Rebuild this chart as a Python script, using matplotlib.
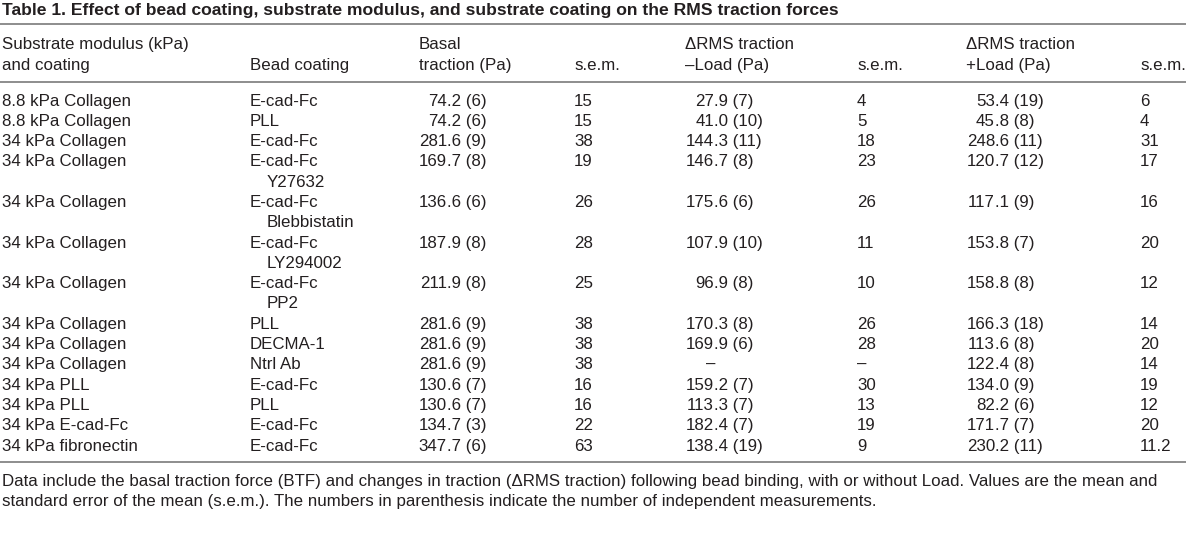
import matplotlib
matplotlib.use("Agg")
import matplotlib.pyplot as plt

plt.rcParams['font.family'] = ['Liberation Sans', 'DejaVu Sans']

# table contents
title = ("Table 1. Effect of bead coating, substrate modulus, and substrate "
         "coating on the RMS traction forces")
headers_top = ["Substrate modulus (kPa)", "", "Basal", "", "\u0394RMS traction", "", "\u0394RMS traction", ""]
headers_bottom = ["and coating", "Bead coating", "traction (Pa)", "s.e.m.",
                  "\u2013Load (Pa)", "s.e.m.", "+Load (Pa)", "s.e.m."]

substrate = ["8.8 kPa Collagen", "8.8 kPa Collagen", "34 kPa Collagen", "34 kPa Collagen",
             "34 kPa Collagen", "34 kPa Collagen", "34 kPa Collagen", "34 kPa Collagen",
             "34 kPa Collagen", "34 kPa Collagen", "34 kPa PLL", "34 kPa PLL",
             "34 kPa E-cad-Fc", "34 kPa fibronectin"]
bead = ["E-cad-Fc", "PLL", "E-cad-Fc", "E-cad-Fc", "E-cad-Fc", "E-cad-Fc", "E-cad-Fc",
        "PLL", "DECMA-1", "Ntrl Ab", "E-cad-Fc", "PLL", "E-cad-Fc", "E-cad-Fc"]
inhibitor = ["", "", "", "Y27632", "Blebbistatin", "LY294002", "PP2",
             "", "", "", "", "", "", ""]

basal = ["74.2", "74.2", "281.6", "169.7", "136.6", "187.9", "211.9",
         "281.6", "281.6", "281.6", "130.6", "130.6", "134.7", "347.7"]
basal_n = [6, 6, 9, 8, 6, 8, 8, 9, 9, 9, 7, 7, 3, 6]
basal_sem = ["15", "15", "38", "19", "26", "28", "25", "38", "38", "38", "16", "16", "22", "63"]

minus_load = ["27.9", "41.0", "144.3", "146.7", "175.6", "107.9", "96.9",
              "170.3", "169.9", None, "159.2", "113.3", "182.4", "138.4"]
minus_n = [7, 10, 11, 8, 6, 10, 8, 8, 6, None, 7, 7, 7, 19]
minus_sem = ["4", "5", "18", "23", "26", "11", "10", "26", "28", "\u2013", "30", "13", "19", "9"]

plus_load = ["53.4", "45.8", "248.6", "120.7", "117.1", "153.8", "158.8",
             "166.3", "113.6", "122.4", "134.0", "82.2", "171.7", "230.2"]
plus_n = [19, 8, 11, 12, 9, 7, 8, 18, 8, 8, 9, 6, 7, 11]
plus_sem = ["6", "4", "31", "17", "16", "20", "12", "14", "20", "14", "19", "12", "20", "11.2"]

footnote = [
    "Data include the basal traction force (BTF) and changes in traction (\u0394RMS traction) "
    "following bead binding, with or without Load. Values are the mean and",
    "standard error of the mean (s.e.m.). The numbers in parenthesis indicate the number "
    "of independent measurements.",
]

# layout in pixels (y values are visual line centres)
W, H = 1200, 535
col_x = [2, 250, 419, 574, 685, 857, 966, 1140]
dec_x = {2: 447, 4: 714, 6: 995}
sub_indent = 267
fs = 12.2
ink = "#231f20"
rule = "#7a7a7a"
base = 5  # baseline sits this many pixels below the visual centre

fig = plt.figure(figsize=(W / 100, H / 100), dpi=100)
ax = fig.add_axes([0, 0, 1, 1])
ax.set_xlim(0, W)
ax.set_ylim(H, 0)
ax.axis("off")


def put(x, y, s, ha="left", **kw):
    # whole-pixel baselines keep every cell of a row on the same line
    ax.text(x, round(y + base), s, fontsize=kw.pop("size", fs), color=ink,
            va="baseline", ha=ha, **kw)


put(2, 10, title, size=12.6, fontweight="bold")
ax.hlines([24, 82, 462], 0, 1186, color=rule, linewidth=1.2)

for x, t1, t2 in zip(col_x, headers_top, headers_bottom):
    put(x, 44, t1)
    put(x, 65, t2)


def put_value(col, y, val, n):
    xd = dec_x[col]
    if val is None:
        put(xd - 8, y, "\u2013")
        return
    whole, frac = val.split(".")
    put(xd, y, whole, ha="right")
    put(xd, y, "." + frac + " (%d)" % n)


y0, pitch = 100.5, 20.3
line = 0
for i in range(len(substrate)):
    y = y0 + line * pitch
    put(col_x[0], y, substrate[i])
    put(col_x[1], y, bead[i])
    put_value(2, y, basal[i], basal_n[i])
    put(col_x[3], y, basal_sem[i])
    put_value(4, y, minus_load[i], minus_n[i])
    put(col_x[5], y, minus_sem[i])
    put_value(6, y, plus_load[i], plus_n[i])
    put(col_x[7], y, plus_sem[i])
    line += 1
    if inhibitor[i]:
        put(sub_indent, y0 + line * pitch, inhibitor[i])
        line += 1

for k, txt in enumerate(footnote):
    put(2, 481.5 + k * 20, txt)

fig.savefig("out.png", dpi=100)
